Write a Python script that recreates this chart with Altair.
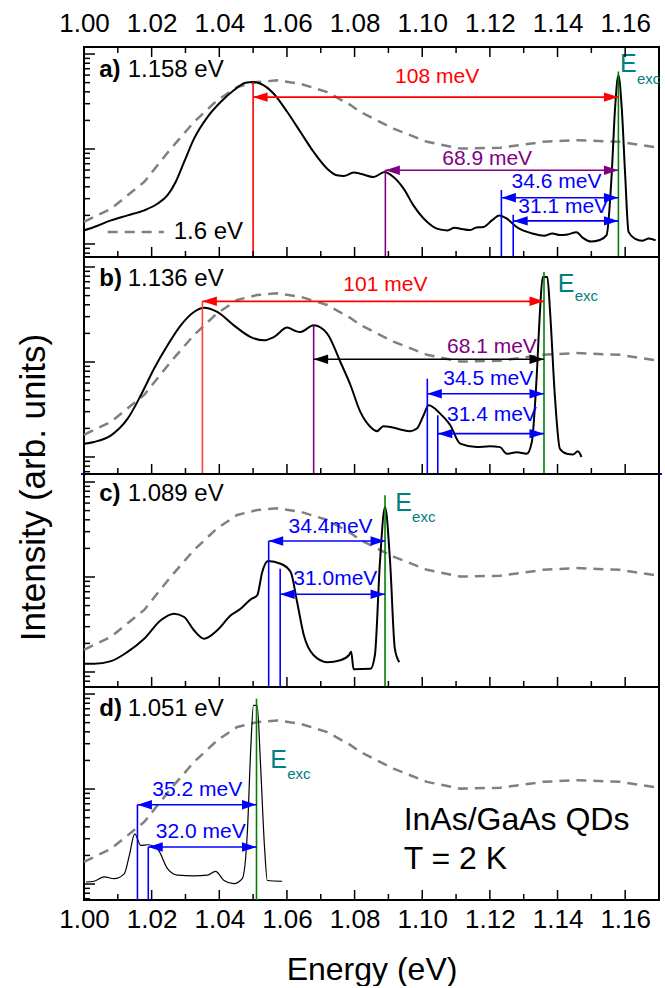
import altair as alt
import pandas as pd

FONT = "Liberation Sans"
E_LO, E_HI = 1.00, 1.17
PLOT_W = 575

RED, PURPLE, BLUE = "#ff0000", "#800080", "#0000ff"
GREEN, TEAL, GRAY, BLACK = "#008000", "#008080", "#808080", "#000000"

# axis tick positions
X_MAJOR = [1.00, 1.02, 1.04, 1.06, 1.08, 1.10, 1.12, 1.14, 1.16]
X_MINOR = [1.01, 1.03, 1.05, 1.07, 1.09, 1.11, 1.13, 1.15]
Y_MAJOR = [10, 100, 1000]
Y_MINOR = [7, 8, 9, 20, 30, 40, 50, 60, 70, 80, 90,
           200, 300, 400, 500, 600, 700, 800, 900]

# PL spectrum excited at 1.6 eV (dashed, repeated in every panel)
REF_E = [1.0000, 1.0080, 1.0178, 1.0257, 1.0325, 1.0394, 1.0453, 1.0512, 1.0571,
         1.0640, 1.0719, 1.0788, 1.0817, 1.0915, 1.1014, 1.1112, 1.1230, 1.1358,
         1.1456, 1.1584, 1.1700]
REF_I = [17.1, 23.5, 45.0, 101, 192, 326, 450, 507, 528,
         486, 398, 290, 245, 164, 119, 101, 103, 119,
         124, 119, 103]

# resonant PL spectra
A_E = [1.0000, 1.0030, 1.0080, 1.0129, 1.0178, 1.0217, 1.0247, 1.0271, 1.0296, 1.0325,
       1.0365, 1.0404, 1.0443, 1.0478, 1.0500, 1.0522, 1.0561, 1.0601, 1.0640, 1.0679,
       1.0719, 1.0748, 1.0768, 1.0797, 1.0817, 1.0856, 1.0889, 1.0915, 1.0945, 1.0974,
       1.1014, 1.1043, 1.1075, 1.1095, 1.1112, 1.1140, 1.1160, 1.1181, 1.1206, 1.1228,
       1.1250, 1.1279, 1.1328, 1.1360, 1.1385, 1.1407, 1.1430, 1.1456, 1.1475, 1.1500,
       1.1525, 1.1545, 1.1560, 1.1570, 1.1580, 1.1590, 1.1600, 1.1610, 1.1630, 1.1650,
       1.1670, 1.1690]
A_I = [13.9, 15.1, 17.7, 20.0, 22.6, 26.5, 32.6, 45.0, 73.0, 128,
       217, 312, 415, 499, 507, 486, 382, 245, 151, 93,
       62, 52.8, 52.0, 56.4, 55.0, 50.7, 57.3, 50.7, 38.2, 25.5,
       17.1, 14.5, 13.9, 14.8, 14.5, 14.0, 14.9, 15.1, 17.7, 20.0,
       18.5, 15.1, 12.8, 12.2, 12.9, 12.4, 12.6, 13.3, 11.6, 10.6,
       11.0, 12.4, 53, 265, 597, 265, 53, 13.4, 11.3, 10.8,
       11.4, 10.9]

B_E = [1.0000, 1.0030, 1.0080, 1.0129, 1.0168, 1.0207, 1.0247, 1.0286, 1.0325, 1.0355,
       1.0394, 1.0443, 1.0493, 1.0532, 1.0561, 1.0601, 1.0625, 1.0640, 1.0679, 1.0719,
       1.0758, 1.0788, 1.0817, 1.0847, 1.0866, 1.0885, 1.0906, 1.0935, 1.0965, 1.0984,
       1.1004, 1.1019, 1.1053, 1.1083, 1.1112, 1.1161, 1.1200, 1.1230, 1.1250, 1.1280,
       1.1309, 1.1324, 1.1338, 1.1348, 1.1356, 1.1370, 1.1378, 1.1392, 1.1407, 1.1427,
       1.1446, 1.1460, 1.1471]
B_I = [13.8, 14.4, 16.9, 25.3, 44.6, 84.9, 150, 243, 336, 373,
       336, 243, 183, 169, 183, 230, 212, 207, 243, 199,
       100, 56.9, 29.8, 20.7, 18.7, 21.0, 20.7, 19.5, 18.7, 19.9,
       27.5, 35.0, 28.6, 21.6, 13.8, 12.7, 13.0, 12.7, 10.8, 11.2,
       10.8, 14.4, 66.7, 336, 785, 785, 336, 44.6, 12.2, 10.8,
       10.6, 11.5, 10.0]

C_E = [1.0000, 1.0030, 1.0080, 1.0129, 1.0178, 1.0227, 1.0266, 1.0296, 1.0325, 1.0355,
       1.0394, 1.0434, 1.0463, 1.0493, 1.0512, 1.0527, 1.0544, 1.0581, 1.0611, 1.0630,
       1.0650, 1.0679, 1.0719, 1.0758, 1.0783, 1.0790, 1.0797, 1.0847, 1.0860, 1.0875,
       1.0890, 1.0905, 1.0919, 1.0932]
C_I = [12.2, 12.2, 13.0, 16.3, 22.4, 35.0, 41.1, 37.9, 27.5, 22.4,
       27.5, 39.5, 46.3, 58.2, 64.1, 113, 147, 138, 113, 54.6,
       24.3, 15.0, 12.7, 13.3, 15.0, 16.3, 10.7, 10.8, 15.0, 144,
       545, 144, 17.6, 12.7]

D_E = [1.0006, 1.0030, 1.0060, 1.0089, 1.0119, 1.0134, 1.0150, 1.0168, 1.0188, 1.0217,
       1.0247, 1.0276, 1.0325, 1.0365, 1.0389, 1.0414, 1.0443, 1.0468, 1.0483, 1.0493,
       1.0501, 1.0512, 1.0522, 1.0534, 1.0542, 1.0586]
D_I = [10.5, 10.7, 11.9, 11.4, 12.8, 20.0, 33.8, 25.5, 25.9, 23.5,
       14.5, 12.4, 12.2, 12.4, 13.6, 10.9, 10.1, 11.4, 35.3, 265,
       760, 760, 178, 23.5, 10.9, 10.7]

# excitation energies (eV) and measured splittings (meV)
EXC = [1.158, 1.136, 1.089, 1.051]
GAPS = [[108, 68.9, 34.6, 31.1], [101, 68.1, 34.5, 31.4], [34.4, 31.0], [35.2, 32.0]]
GAP_TEXT = [["108 meV", "68.9 meV", "34.6 meV", "31.1 meV"],
            ["101 meV", "68.1 meV", "34.5 meV", "31.4 meV"],
            ["34.4meV", "31.0meV"],
            ["35.2 meV", "32.0 meV"]]
TAGS = ["a)", "b)", "c)", "d)"]

HEAD_R = "M0,0L-2,-0.65L-2,0.65Z"
HEAD_L = "M0,0L2,-0.65L2,0.65Z"

# per-panel layout: heights, log ranges, arrow levels and label placement
LAYOUT = [
    dict(h=210, ydom=[7.29, 1186],
         arrow_y=[352, 59.7, 30.7, 17.5], mark_top=[507, 60, 37, 20.3],
         arrow_c=[RED, PURPLE, BLUE, BLUE], text_c=[RED, PURPLE, BLUE, BLUE],
         mark_c=[RED, PURPLE, BLUE, BLUE],
         lab_x=[1.1044, 1.1192, 1.1397, 1.1417], lab_y=[573, 79.1, 45, 24.5],
         exc_top=655, e_pos=(1.1585, 791), sub_y=550, tag_y=673),
    dict(h=217, ydom=[6.62, 1274],
         arrow_y=[435, 107, 46.3, 17.6], mark_top=[435, 243, 66.7, 27.5],
         arrow_c=[RED, BLACK, BLUE, BLUE], text_c=[RED, PURPLE, BLUE, BLUE],
         mark_c=["#ff4040", PURPLE, BLUE, BLUE],
         lab_x=[1.0891, 1.1206, 1.1195, 1.1206], lab_y=[641, 144, 66.7, 27.9],
         exc_top=886, e_pos=(1.1401, 667), sub_y=495, tag_y=753),
    dict(h=213, ydom=[6.95, 1214],
         arrow_y=[239, 65.8], mark_top=[239, 122],
         arrow_c=[BLUE, BLUE], text_c=[BLUE, BLUE], mark_c=[BLUE, BLUE],
         lab_x=[1.0729, 1.0743], lab_y=[336, 95.9],
         exc_top=724, e_pos=(1.0920, 601), sub_y=428, tag_y=753),
    dict(h=213, ydom=[6.79, 1186],
         arrow_y=[68.4, 24.5], mark_top=[68.4, 24.5],
         arrow_c=[BLUE, BLUE], text_c=[BLUE, BLUE], mark_c=[BLUE, BLUE],
         lab_x=[1.0335, 1.0345], lab_y=[96.9, 35.3],
         exc_top=892, e_pos=(1.0551, 200), sub_y=145, tag_y=700),
]
SUB_SHIFT = 0.0050  # subscript starts just right of the "E"

SPECTRA = [(A_E, A_I, 2.0), (B_E, B_I, 2.0), (C_E, C_I, 2.0), (D_E, D_I, 1.2)]


def make_panel(k):
    L = LAYOUT[k]
    h = L["h"]
    xs = alt.Scale(domain=[E_LO, E_HI], nice=False, zero=False)
    ys = alt.Scale(type="log", domain=L["ydom"], nice=False)

    label_style = dict(values=X_MAJOR, format=".2f", ticks=False, tickSize=0, domain=False,
                       grid=False, labelFontSize=26, labelColor=BLACK, labelFlush=False,
                       labelOverlap=False)
    if k == 0:
        x_axis = alt.Axis(orient="top", title=None, labelPadding=11, **label_style)
    elif k == 3:
        x_axis = alt.Axis(orient="bottom", title="Energy (eV)", labelPadding=6,
                          titleFontSize=32, titleFontWeight="normal", titlePadding=22,
                          titleColor=BLACK, **label_style)
    else:
        x_axis = None
    if k == 1:
        y_axis = alt.Axis(title="Intensity (arb. units)", labels=False, ticks=False,
                          domain=False, grid=False, titleFontSize=35,
                          titleFontWeight="normal", titleColor=BLACK, titleX=-40,
                          titleY=230, titleBaseline="alphabetic")
    else:
        y_axis = None

    # every layer carries the same axis definition so the merged axis stays intact
    def xq(field):
        return alt.X(f"{field}:Q", scale=xs, axis=x_axis)

    def yq(field):
        return alt.Y(f"{field}:Q", scale=ys, axis=y_axis)

    layers = []
    ref = pd.DataFrame({"E": REF_E, "I": REF_I})
    layers.append(alt.Chart(ref).mark_line(color=GRAY, strokeWidth=2.5, strokeDash=[10, 7])
                  .encode(x=xq("E"), y=yq("I")))

    se, si, lw = SPECTRA[k]
    spec = pd.DataFrame({"E": se, "I": si})
    layers.append(alt.Chart(spec).mark_line(color=BLACK, strokeWidth=lw,
                                             interpolate="monotone")
                  .encode(x=xq("E"), y=yq("I")))

    exc = EXC[k]
    starts = [round(exc - g / 1000.0, 4) for g in GAPS[k]]

    marks = pd.DataFrame({"E": starts + [exc], "top": L["mark_top"] + [L["exc_top"]],
                          "col": L["mark_c"] + [GREEN]})
    layers.append(alt.Chart(marks).mark_rule(strokeWidth=1.6)
                  .encode(x=xq("E"), y=yq("top"), y2=alt.value(h),
                          color=alt.Color("col:N", scale=None)))

    arrows = pd.DataFrame({"x0": starts, "x1": [exc] * len(starts), "lvl": L["arrow_y"],
                           "col": L["arrow_c"]})
    layers.append(alt.Chart(arrows).mark_rule(strokeWidth=1.6)
                  .encode(x=xq("x0"), x2="x1:Q", y=yq("lvl"),
                          color=alt.Color("col:N", scale=None)))
    layers.append(alt.Chart(arrows).mark_point(shape=HEAD_L, filled=True, size=210,
                                                opacity=1, strokeWidth=0)
                  .encode(x=xq("x0"), y=yq("lvl"), color=alt.Color("col:N", scale=None)))
    layers.append(alt.Chart(arrows).mark_point(shape=HEAD_R, filled=True, size=210,
                                                opacity=1, strokeWidth=0)
                  .encode(x=xq("x1"), y=yq("lvl"), color=alt.Color("col:N", scale=None)))

    labels = pd.DataFrame({"lx": L["lab_x"], "ly": L["lab_y"], "txt": GAP_TEXT[k],
                           "col": L["text_c"]})
    layers.append(alt.Chart(labels).mark_text(fontSize=21, align="center", baseline="middle")
                  .encode(x=xq("lx"), y=yq("ly"), text="txt:N",
                          color=alt.Color("col:N", scale=None)))

    ex = pd.DataFrame({"x": [L["e_pos"][0]], "y": [L["e_pos"][1]], "t": ["E"]})
    layers.append(alt.Chart(ex).mark_text(fontSize=25, color=TEAL, align="left",
                                          baseline="middle")
                  .encode(x=xq("x"), y=yq("y"), text="t:N"))
    sub = pd.DataFrame({"x": [L["e_pos"][0] + SUB_SHIFT], "y": [L["sub_y"]], "t": ["exc"]})
    layers.append(alt.Chart(sub).mark_text(fontSize=15, color=TEAL, align="left",
                                           baseline="middle")
                  .encode(x=xq("x"), y=yq("y"), text="t:N"))

    tag = pd.DataFrame({"x": [1.0045], "y": [L["tag_y"]], "t": [TAGS[k]]})
    layers.append(alt.Chart(tag).mark_text(fontSize=24, fontWeight="bold", align="left",
                                           baseline="middle", color=BLACK)
                  .encode(x=xq("x"), y=yq("y"), text="t:N"))
    val = pd.DataFrame({"x": [1.0129], "y": [L["tag_y"]], "t": [f"{exc:.3f} eV"]})
    layers.append(alt.Chart(val).mark_text(fontSize=24, align="left", baseline="middle",
                                           color=BLACK)
                  .encode(x=xq("x"), y=yq("y"), text="t:N"))

    if k == 0:
        leg = pd.DataFrame({"x0": [1.0070], "x1": [1.0236], "y": [13.4]})
        layers.append(alt.Chart(leg).mark_rule(color=GRAY, strokeWidth=2.5,
                                               strokeDash=[10, 7])
                      .encode(x=xq("x0"), x2="x1:Q", y=yq("y")))
        legt = pd.DataFrame({"x": [1.0265], "y": [13.4], "t": ["1.6 eV"]})
        layers.append(alt.Chart(legt).mark_text(fontSize=24, align="left", baseline="middle",
                                                color=BLACK)
                      .encode(x=xq("x"), y=yq("y"), text="t:N"))
    if k == 3:
        note = pd.DataFrame({"x": [1.0945, 1.0945], "y": [46.9, 18.5],
                             "t": ["InAs/GaAs QDs", "T = 2 K"]})
        layers.append(alt.Chart(note).mark_text(fontSize=32, align="left", baseline="middle",
                                                color=BLACK)
                      .encode(x=xq("x"), y=yq("y"), text="t:N"))
    if k == 1:
        base_line = pd.DataFrame({"z": [0]})
        layers.append(alt.Chart(base_line).mark_rule(color=BLUE, strokeWidth=2)
                      .encode(x=alt.value(-3), x2=alt.value(PLOT_W + 3),
                              y=alt.value(h)))

    # inward tick marks
    xt_major = pd.DataFrame({"t": X_MAJOR})
    xt_minor = pd.DataFrame({"t": X_MINOR})
    layers.append(alt.Chart(xt_major).mark_rule(color=BLACK, strokeWidth=1.5)
                  .encode(x=xq("t"), y=alt.value(h - 10), y2=alt.value(h)))
    layers.append(alt.Chart(xt_minor).mark_rule(color=BLACK, strokeWidth=1.5)
                  .encode(x=xq("t"), y=alt.value(h - 6), y2=alt.value(h)))
    if k == 0:
        layers.append(alt.Chart(xt_major).mark_rule(color=BLACK, strokeWidth=1.5)
                      .encode(x=xq("t"), y=alt.value(0), y2=alt.value(10)))
        layers.append(alt.Chart(xt_minor).mark_rule(color=BLACK, strokeWidth=1.5)
                      .encode(x=xq("t"), y=alt.value(0), y2=alt.value(6)))
    lo, hi = L["ydom"]
    yt_major = pd.DataFrame({"t": [v for v in Y_MAJOR if lo <= v <= hi]})
    yt_minor = pd.DataFrame({"t": [v for v in Y_MINOR if lo <= v <= hi]})
    layers.append(alt.Chart(yt_major).mark_rule(color=BLACK, strokeWidth=1.5)
                  .encode(y=yq("t"), x=alt.value(0), x2=alt.value(11)))
    layers.append(alt.Chart(yt_minor).mark_rule(color=BLACK, strokeWidth=1.5)
                  .encode(y=yq("t"), x=alt.value(0), x2=alt.value(6)))

    return alt.layer(*layers).properties(width=PLOT_W, height=h)


chart = (
    alt.vconcat(*[make_panel(k) for k in range(4)], spacing=0, bounds="flush")
    .resolve_scale(y="independent")
    .properties(padding={"left": 15, "top": 9, "right": 0, "bottom": 0})
    .configure(font=FONT)
    .configure_view(stroke=BLACK, strokeWidth=2)
)

chart.save("out.html", embed_options={"renderer": "svg", "actions": False})
